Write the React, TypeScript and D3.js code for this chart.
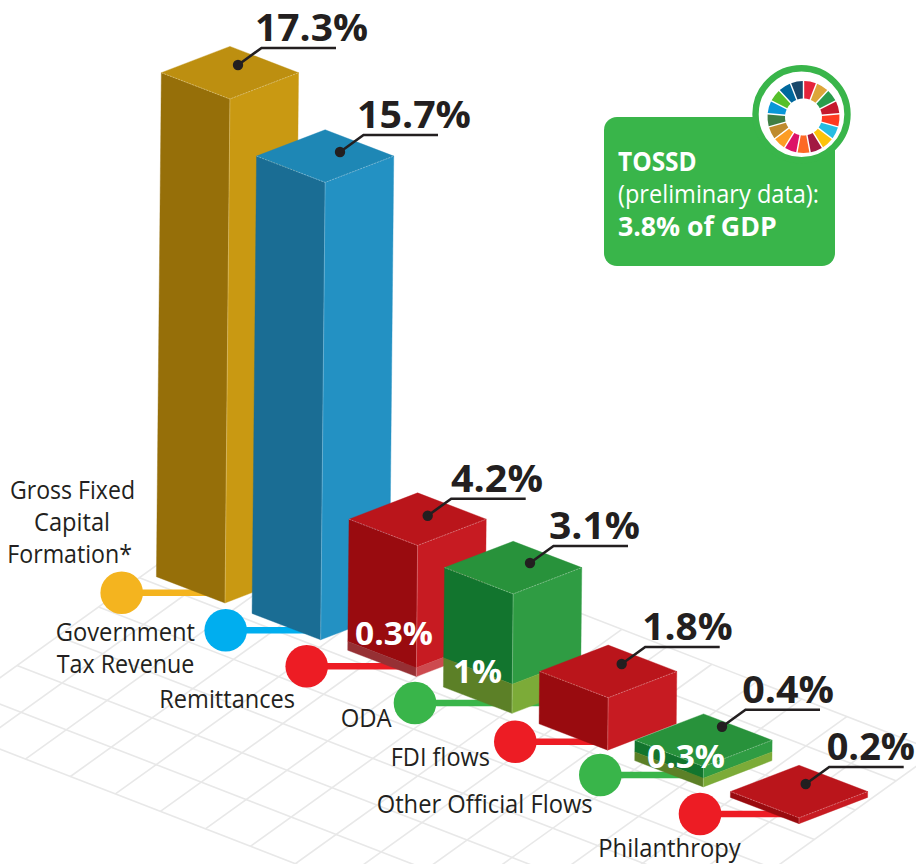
import * as d3 from "d3";

const WIDTH = 916;
const HEIGHT = 864;

// values (% of GDP)
const categories = ["Gross Fixed Capital Formation*", "Government Tax Revenue", "Remittances", "ODA", "FDI flows", "Other Official Flows", "Philanthropy"];
const values = [17.3, 15.7, 4.2, 3.1, 1.8, 0.4, 0.2];
const tossdParts = [0, 0, 0.3, 1, 0, 0.3, 0]; // lighter band under the bar

// palette per bar
const leftFace = ["#966f09", "#1a6d94", "#990b0f", "#12752e", "#990b0f", "#12752e", "#990b0f"];
const rightFace = ["#c99912", "#2391c3", "#c71b22", "#2f9c43", "#c71b22", "#2f9c43", "#c71b22"];
const topFace = ["#bd8f10", "#1e87b5", "#ba151b", "#28923b", "#ba151b", "#28923b", "#ba151b"];
const bandLeft = ["", "", "#963034", "#5c8027", "", "#5c8027", ""];
const bandRight = ["", "", "#cd4a4f", "#7cab38", "", "#7cab38", ""];
const dotColor = ["#f4b41f", "#00aeef", "#ed1c24", "#39b54a", "#ed1c24", "#39b54a", "#ed1c24"];

const sdgColors = ["#e5243b", "#dda63a", "#2a9d4c", "#c5192d", "#ff3a21", "#26bde2", "#fcc30b", "#a21942", "#fd6925", "#dd1367", "#fd9d24", "#bf8b2e", "#3f7e44", "#0a97d9", "#56c02b", "#00689d", "#19486a"];

// layout of the annotations, [x, y]
const dotPos = [[121.7, 592.7], [225.7, 630.3], [306.7, 666.3], [415, 703], [515.3, 741.7], [600.3, 775], [700, 814]];
const connectorOvershoot = [0, 0, 0, 28, 0, 0, 0]; // the ODA line pokes out under its bar
const calloutDot = [[238, 65], [340, 152], [427.7, 515.7], [530, 563], [621.7, 664], [722, 726.7], [805.7, 784]];
const valueLabelX = [[255, 368], [357, 471], [451, 543], [549, 640], [642.3, 732.7], [742.3, 834], [826.7, 915]];

// text, x start, x end, baseline
const nameLines: [string, number, number, number][] = [
  ["Gross Fixed", 10, 135, 499],
  ["Capital", 34, 110, 531],
  ["Formation*", 7.3, 132, 563],
  ["Government", 55.7, 195, 641],
  ["Tax Revenue", 56.7, 194.3, 672.7],
  ["Remittances", 159.3, 295, 708.3],
  ["ODA", 340.7, 391.7, 727.3],
  ["FDI flows", 390.7, 490, 765.7],
  ["Other Official Flows", 376.7, 592.7, 813.3],
  ["Philanthropy", 598.3, 740.7, 856.7],
];
const bandLabels: [string, number, number, number][] = [
  ["0.3%", 355, 433, 645],
  ["1%", 453, 502, 683],
  ["0.3%", 647, 725, 768],
];

const FONT = "'Open Sans', sans-serif";
const INK = "#231f20";
const GREEN = "#39b54a";

// bars sit on the floor along one diagonal
const frontX = d3.scaleLinear().domain([0, values.length - 1]).range([225, 799]);
const frontY = d3.scaleLinear().domain([0, values.length - 1]).range([603, 823.7]);
const barH = d3.scaleLinear().domain([0, 17.3]).range([0, 504]);

const HALF_W = 68.6;
const HALF_D = 26.3;

const poly = d3.line();
const path = (pts: [number, number][]) => poly(pts) + "Z";

// floor grid
const I_MIN = -1;
const I_MAX = 14;
const J_MIN = -6;
const J_MAX = 2;
const gridI = d3.range(I_MIN, I_MAX + 1);
const gridJ = d3.range(J_MIN, J_MAX + 1);
const floorX = (i: number, j: number) => 62 + 45 * i - 40.8 * j;
const floorY = (i: number, j: number) => 683 + 17.45 * i + 29.3 * j;

function Box({ i }: { i: number }) {
  const band = barH(tossdParts[i]);
  const h = barH(values[i]) + band;
  const fx = frontX(i);
  const fy = frontY(i);
  const lean = (v: number) => fx + v * 0.0098;

  const face = (h0: number, h1: number, side: number): [number, number][] => [
    [lean(h1), fy - h1],
    [lean(h1) + side * HALF_W, fy - h1 - HALF_D],
    [lean(h0) + side * HALF_W, fy - h0 - HALF_D],
    [lean(h0), fy - h0],
  ];

  const tx = lean(h);
  const ty = fy - h;
  const top: [number, number][] = [
    [tx, ty],
    [tx - HALF_W, ty - HALF_D],
    [tx, ty - 2 * HALF_D],
    [tx + HALF_W, ty - HALF_D],
  ];

  return (
    <g>
      <path d={path(face(band, h, -1))} fill={leftFace[i]} stroke={leftFace[i]} strokeWidth={0.4} />
      <path d={path(face(band, h, 1))} fill={rightFace[i]} stroke={rightFace[i]} strokeWidth={0.4} />
      {band > 0 && <path d={path(face(0, band, -1))} fill={bandLeft[i]} stroke={bandLeft[i]} strokeWidth={0.4} />}
      {band > 0 && <path d={path(face(0, band, 1))} fill={bandRight[i]} stroke={bandRight[i]} strokeWidth={0.4} />}
      <path d={path(top)} fill={topFace[i]} stroke={topFace[i]} strokeWidth={0.4} />
      <path d={poly([top[1], top[0], top[3]])!} fill="none" stroke="#fff" strokeOpacity={0.4} strokeWidth={0.8} strokeDasharray="2 1" />
      <path d={poly([[tx, ty], [lean(0), fy]])!} fill="none" stroke="#fff" strokeOpacity={0.3} strokeWidth={0.8} />
    </g>
  );
}

function Callout({ i }: { i: number }) {
  const [dx, dy] = calloutDot[i];
  const ex = dx + 23.5;
  const ey = dy - 17;
  const [x0, x1] = valueLabelX[i];
  return (
    <g>
      <circle cx={dx} cy={dy} r={5.2} fill={INK} />
      <path d={poly([[dx, dy], [ex, ey], [ex + 74.5, ey]])!} fill="none" stroke={INK} strokeWidth={2.6} />
      <text x={x0} y={ey - 7} textLength={x1 - x0} lengthAdjust="spacingAndGlyphs" fontFamily={FONT} fontWeight={700} fontSize={38} fill={INK}>
        {`${values[i]}%`}
      </text>
    </g>
  );
}

export default function App() {
  const wheel = d3.pie<string>().value(1).sort(null).padAngle(0.035)(sdgColors);
  const wheelArc = d3.arc<d3.PieArcDatum<string>>().innerRadius(18.5).outerRadius(36);

  return (
    <svg width={WIDTH} height={HEIGHT} viewBox={`0 0 ${WIDTH} ${HEIGHT}`} style={{ position: "absolute", left: 0, top: 0, background: "#fff" }}>
      {/* floor */}
      <g stroke="#e8e8e8" strokeWidth={1.6} fill="none">
        {gridJ.map(j => (
          <path key={`a${j}`} d={poly([[floorX(I_MIN, j), floorY(I_MIN, j)], [floorX(I_MAX, j), floorY(I_MAX, j)]])!} />
        ))}
        {gridI.map(i => (
          <path key={`b${i}`} d={poly([[floorX(i, J_MIN), floorY(i, J_MIN)], [floorX(i, J_MAX), floorY(i, J_MAX)]])!} />
        ))}
      </g>

      {/* connectors and bars, back to front */}
      {categories.map((c, i) => (
        <g key={c}>
          <line x1={dotPos[i][0]} x2={frontX(i) + connectorOvershoot[i]} y1={dotPos[i][1]} y2={dotPos[i][1]} stroke={dotColor[i]} strokeWidth={6.5} />
          <Box i={i} />
        </g>
      ))}

      {categories.map((c, i) => (
        <circle key={c} cx={dotPos[i][0]} cy={dotPos[i][1]} r={21.3} fill={dotColor[i]} />
      ))}

      {categories.map((c, i) => (
        <Callout key={c} i={i} />
      ))}

      {nameLines.map(([t, x0, x1, y]) => (
        <text key={t} x={x0} y={y} textLength={x1 - x0} lengthAdjust="spacingAndGlyphs" fontFamily={FONT} fontSize={25} fill={INK}>
          {t}
        </text>
      ))}

      {bandLabels.map(([t, x0, x1, y]) => (
        <text key={x0} x={x0} y={y} textLength={x1 - x0} lengthAdjust="spacingAndGlyphs" fontFamily={FONT} fontWeight={700} fontSize={32} fill="#fff">
          {t}
        </text>
      ))}

      {/* TOSSD box */}
      <rect x={604} y={117} width={231} height={149} rx={13} fill={GREEN} />
      <circle cx={801.5} cy={114.2} r={46} fill="#fff" stroke={GREEN} strokeWidth={6.4} />
      <g transform="translate(803.5,117)">
        {wheel.map(d => (
          <path key={d.data} d={wheelArc(d)!} fill={d.data} />
        ))}
      </g>
      <g fontFamily={FONT} fill="#fff" fontSize={25}>
        <text x={618} y={171} fontWeight={700} fontSize={26} textLength={78.7} lengthAdjust="spacingAndGlyphs">TOSSD</text>
        <text x={618} y={203} textLength={201} lengthAdjust="spacingAndGlyphs">(preliminary data):</text>
        <text x={618} y={235.7} fontWeight={700} fontSize={26} textLength={158.7} lengthAdjust="spacingAndGlyphs">3.8% of GDP</text>
      </g>
    </svg>
  );
}
